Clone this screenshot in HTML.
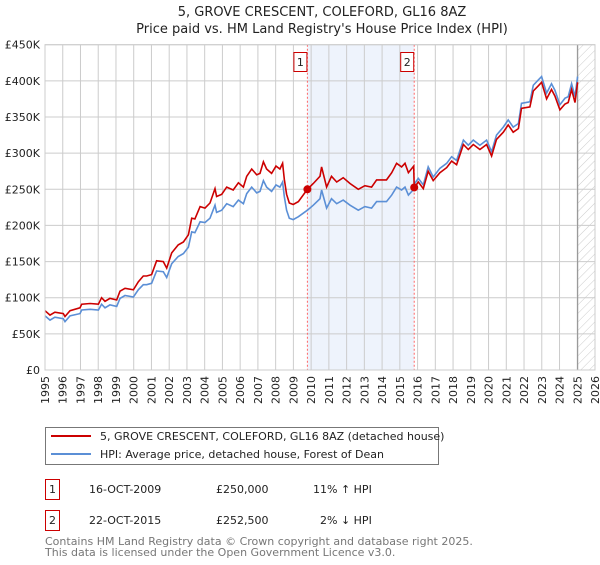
<!DOCTYPE html>
<html><head><meta charset="utf-8"><style>
body{margin:0;background:#fff;font-family:"Liberation Sans","DejaVu Sans",sans-serif;}
svg text{font-family:"DejaVu Sans","Liberation Sans",sans-serif;}
</style></head><body>
<svg width="600" height="560" xmlns="http://www.w3.org/2000/svg">
<defs><pattern id="hatch" width="6" height="6" patternUnits="userSpaceOnUse" patternTransform="rotate(45)"><line x1="0" y1="0" x2="0" y2="6" stroke="#ccc" stroke-width="1"/></pattern></defs>
<text x="322" y="16" text-anchor="middle" font-size="13" fill="#222">5, GROVE CRESCENT, COLEFORD, GL16 8AZ</text>
<text x="322" y="33" text-anchor="middle" font-size="13" fill="#222">Price paid vs. HM Land Registry's House Price Index (HPI)</text>
<g id="plot"></g>
<rect x="45.5" y="427.5" width="393" height="37" fill="#fff" stroke="#777"/>
<line x1="51" y1="436" x2="91" y2="436" stroke="#cc0000" stroke-width="2"/>
<text x="100" y="440" font-size="11" fill="#222">5, GROVE CRESCENT, COLEFORD, GL16 8AZ (detached house)</text>
<line x1="51" y1="454" x2="91" y2="454" stroke="#5b8fd6" stroke-width="2"/>
<text x="100" y="458" font-size="11" fill="#222">HPI: Average price, detached house, Forest of Dean</text>
<rect x="45.5" y="479.5" width="14" height="20" fill="#fff" stroke="#cc0000"/>
<text x="52.5" y="493" text-anchor="middle" font-size="11" fill="#222">1</text>
<text x="89" y="493" font-size="11" fill="#222">16-OCT-2009</text>
<text x="216" y="493" font-size="11" fill="#222">£250,000</text>
<text x="313" y="493" font-size="11" fill="#222">11% ↑ HPI</text>
<rect x="45.5" y="510.5" width="14" height="20" fill="#fff" stroke="#cc0000"/>
<text x="52.5" y="524" text-anchor="middle" font-size="11" fill="#222">2</text>
<text x="89" y="524" font-size="11" fill="#222">22-OCT-2015</text>
<text x="216" y="524" font-size="11" fill="#222">£252,500</text>
<text x="320" y="524" font-size="11" fill="#222">2% ↓ HPI</text>
<text x="45" y="545" font-size="11" fill="#777">Contains HM Land Registry data © Crown copyright and database right 2025.</text>
<text x="45" y="556" font-size="11" fill="#777">This data is licensed under the Open Government Licence v3.0.</text>
</svg>
<script>
const years=[1995.00,1995.28,1995.56,1996.03,1996.13,1996.41,1996.97,1997.07,1997.54,1998.01,1998.19,1998.38,1998.66,1999.04,1999.23,1999.51,1999.98,2000.26,2000.54,2000.73,2001.01,2001.29,2001.67,2001.86,2002.14,2002.51,2002.80,2003.08,2003.27,2003.45,2003.74,2004.02,2004.30,2004.58,2004.67,2004.96,2005.24,2005.61,2005.90,2006.18,2006.37,2006.65,2006.93,2007.12,2007.31,2007.49,2007.77,2008.02,2008.24,2008.39,2008.49,2008.62,2008.77,2008.99,2009.28,2009.79,2010.12,2010.50,2010.59,2010.87,2011.15,2011.44,2011.81,2012.19,2012.66,2013.03,2013.41,2013.69,2014.25,2014.54,2014.82,2015.10,2015.29,2015.48,2015.78,2015.81,2016.04,2016.32,2016.60,2016.88,2017.26,2017.64,2017.92,2018.20,2018.58,2018.86,2019.14,2019.51,2019.89,2020.17,2020.45,2020.83,2021.11,2021.39,2021.68,2021.86,2022.33,2022.52,2022.80,2022.99,2023.27,2023.55,2023.74,2024.02,2024.31,2024.49,2024.68,2024.87,2025.02];
const hpi=[75,69,73,71,67,75,78,83,84,83,91,86,90,88,99,103,101,111,118,118,120,137,136,128,147,157,161,170,191,190,205,204,210,228,218,221,230,226,235,230,244,253,245,247,262,253,247,256,253,260,240,221,210,208,212,221,228,237,249,224,237,230,235,228,221,226,224,233,233,242,253,249,253,242,250,257,265,256,281,267,279,286,295,290,318,311,318,311,318,302,325,336,346,336,341,369,371,394,401,406,383,396,387,367,376,378,396,378,406];
const price=[82,76,80,78,74,82,86,91,92,91,100,95,99,97,109,113,111,122,130,130,132,151,150,141,162,173,177,187,210,209,226,224,231,251,240,243,253,249,259,253,268,278,270,272,288,278,272,282,278,286,264,243,231,229,233,250,258,268,281,253,268,260,266,258,250,255,253,263,263,273,286,281,286,273,282,252.5,260,251,275,262,273,280,289,284,312,305,312,305,312,296,319,329,339,329,334,362,364,386,393,398,375,388,379,360,368,370,388,370,398];
const yTicks=[0,50,100,150,200,250,300,350,400,450];
const yTickLabels=["£0","£50K","£100K","£150K","£200K","£250K","£300K","£350K","£400K","£450K"];
const xTicks=[1995,1996,1997,1998,1999,2000,2001,2002,2003,2004,2005,2006,2007,2008,2009,2010,2011,2012,2013,2014,2015,2016,2017,2018,2019,2020,2021,2022,2023,2024,2025,2026];
const saleYears=[2009.79,2015.81];
const salePrices=[250,252.5];
const saleLabels=["1","2"];
const L=45,R=595,T=44.7,B=370;
const x=v=>L+(v-1995)/(2026-1995)*(R-L);
const y=v=>B-v/450*(B-T);
const NS="http://www.w3.org/2000/svg";
const g=document.getElementById('plot');
function mk(t,a){const e=document.createElementNS(NS,t);for(const k in a)e.setAttribute(k,a[k]);g.appendChild(e);return e;}
let e=mk('rect',{x:x(saleYears[0]),y:T,width:x(saleYears[1])-x(saleYears[0]),height:B-T,fill:'#eef3fc'});


e=mk('rect',{x:x(2025.02),y:T,width:R-x(2025.02),height:B-T,fill:'url(#hatch)'});


yTicks.forEach((v,i)=>{
 let l=mk('line',{x1:L,x2:R,y1:y(v),y2:y(v),stroke:'#ccc','stroke-width':1});
 
 
 let t=mk('text',{x:40,y:y(v)+4,'text-anchor':'end','font-size':11,fill:'#222'});
 t.textContent=yTickLabels[i];
 
 
});
xTicks.forEach(v=>{
 let l=mk('line',{x1:x(v),x2:x(v),y1:T,y2:B,stroke:'#ccc','stroke-width':1});
 
 
 let t=mk('text',{x:0,y:0,'text-anchor':'end','font-size':11,fill:'#222',transform:`translate(${x(v)+4},376) rotate(-90)`});
 t.textContent=v;
 
 
});
e=mk('line',{x1:x(2025.02),x2:x(2025.02),y1:T,y2:B,stroke:'#999','stroke-width':1.2});


saleYears.forEach((v,i)=>{
 let l=mk('line',{x1:x(v),x2:x(v),y1:T,y2:B,stroke:'#ff6666','stroke-width':1,'stroke-dasharray':'2,2'});
 
 
 let r=mk('rect',{x:x(v)-13.5,y:52.5,width:13,height:19,fill:'#fff',stroke:'#cc0000'});
 
 
 let t=mk('text',{x:x(v)-7,y:66,'text-anchor':'middle','font-size':11,fill:'#222'});
 t.textContent=saleLabels[i];
 
 
});
const pts=a=>a.map((v,i)=>x(years[i]).toFixed(1)+','+y(v).toFixed(1)).join(' ');
e=mk('polyline',{points:pts(hpi),fill:'none',stroke:'#5b8fd6','stroke-width':1.6});


e=mk('polyline',{points:pts(price),fill:'none',stroke:'#cc0000','stroke-width':1.6});


saleYears.forEach((v,i)=>{
 let c=mk('circle',{cx:x(v),cy:y(salePrices[i]),r:4,fill:'#cc0000'});
 
 
});
e=mk('rect',{x:L,y:T,width:R-L,height:B-T,fill:'none',stroke:'#ccc'});


</script>
</body></html>
